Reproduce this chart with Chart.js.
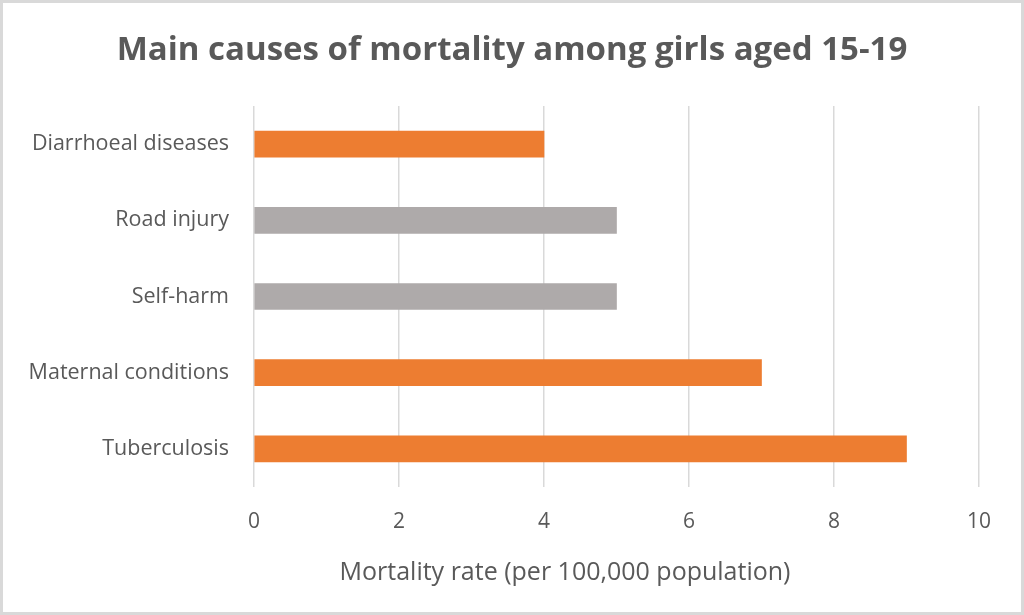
<!DOCTYPE html>
<html>
<head>
<meta charset="utf-8">
<script src="https://cdn.jsdelivr.net/npm/chart.js@4"></script>
<style>
  html, body { margin: 0; padding: 0; background: #fff; }
  #wrap { width: 1024px; height: 615px; position: relative; }
</style>
</head>
<body>
<div id="wrap"><canvas id="chart"></canvas></div>
<script>
const causes = ["Diarrhoeal diseases", "Road injury", "Self-harm", "Maternal conditions", "Tuberculosis"];
const mortalityRates = [4, 5, 5, 7, 9];
const xTicks = [0, 2, 4, 6, 8, 10];
const chartTitle = "Main causes of mortality among girls aged 15-19";
const xAxisTitle = "Mortality rate (per 100,000 population)";

const ORANGE = "#ED7D31";
const GRAY = "#AEAAAA";
const TEXT = "#595959";
const barColors = [ORANGE, GRAY, GRAY, ORANGE, ORANGE];

// frame round the picture, chart title centred on the page,
// x axis title which sits left of the plot centre
const decorPlugin = {
  id: "decor",
  afterDraw(chart) {
    const c = chart.ctx;
    c.save();
    c.strokeStyle = "#D9D9D9";
    c.lineWidth = 3;
    c.strokeRect(1.5, 1.5, chart.width - 3, chart.height - 3);

    c.fillStyle = TEXT;
    c.textAlign = "center";
    c.textBaseline = "middle";
    c.font = "bold 33px 'Open Sans'";
    c.fillText(chartTitle, chart.width / 2, 51);

    c.font = "25px 'Open Sans'";
    c.fillText(xAxisTitle, 565, 573);
    c.restore();
  }
};

const ctx = document.getElementById("chart").getContext("2d");

new Chart(ctx, {
  type: "bar",
  data: {
    labels: causes,
    datasets: [{
      data: mortalityRates,
      backgroundColor: barColors,
      borderWidth: 0,
      barThickness: 26
    }]
  },
  options: {
    indexAxis: "y",
    responsive: true,
    maintainAspectRatio: false,
    animation: false,
    layout: { padding: { left: 0, right: 45, top: 106, bottom: 0 } },
    plugins: {
      legend: { display: false },
      tooltip: { enabled: false },
      title: { display: false }
    },
    scales: {
      x: {
        min: 0,
        max: 10,
        afterBuildTicks(scale) {
          scale.ticks = xTicks.map(v => ({ value: v }));
        },
        afterFit(scale) { scale.height = 128; },
        grid: { color: "#D9D9D9", lineWidth: 1.5, drawTicks: false },
        border: { display: false },
        ticks: {
          color: TEXT,
          font: { family: "Open Sans", size: 21 },
          padding: 22
        }
      },
      y: {
        afterFit(scale) { scale.width = 254; },
        grid: { display: false, drawTicks: false },
        border: { display: false },
        ticks: {
          color: TEXT,
          font: { family: "Open Sans", size: 21.5 },
          padding: 25
        }
      }
    }
  },
  plugins: [decorPlugin]
});
</script>
</body>
</html>
